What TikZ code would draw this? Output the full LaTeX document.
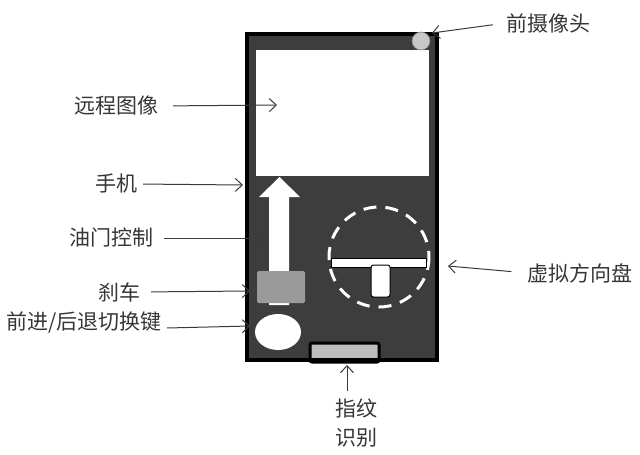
\documentclass[tikz,border=0pt]{standalone}
\usepackage{fontspec}
\newfontfamily\cjk{Noto Sans CJK SC}
\usetikzlibrary{arrows.meta,calc}
\definecolor{phonegray}{HTML}{3D3D3D}
\definecolor{txtgray}{HTML}{363636}
\definecolor{ptrgray}{HTML}{3A3A3A}
\definecolor{brakegray}{HTML}{9A9A9A}
\definecolor{fpgray}{HTML}{BDBDBD}
\definecolor{camgray}{HTML}{C8C8C8}
\tikzset{
  lbl/.style={font=\cjk\fontsize{21}{29}\selectfont, text=txtgray, inner sep=0pt},
  ptr/.style={draw=ptrgray, line width=1pt, -{Straight Barb[length=7pt,width=13pt,line width=1pt]}},
  whitepart/.style={fill=white, draw=none},
  outlined/.style={fill=white, draw=black, line width=1pt},
}
\begin{document}
\begin{tikzpicture}[x=1pt,y=-1pt]
\useasboundingbox (0,0) rectangle (640,455);
% phone body
\draw[line width=4pt, fill=phonegray, draw=black] (247,34) rectangle (437,360);
% screen
\fill[white] (256,50) rectangle (429,176);
% throttle arrow
\fill[white] (269,305) -- (269,197) -- (259,197) -- (279.5,177) -- (300,197) -- (289,197) -- (289,305) -- cycle;
% brake
\fill[brakegray, rounded corners=1.5pt] (257,271) rectangle (305,303);
% forward/backward switch
\fill[white] (278,332) ellipse [x radius=23, y radius=18];
% fingerprint
\draw[line width=3pt, fill=fpgray, draw=black, rounded corners=2pt] (310,343) rectangle (379,362);
\draw[line width=4pt, black] (245,360) -- (439,360);
% steering wheel
\draw[white, line width=3pt, dash pattern=on 13pt off 9pt] (379,257) circle [radius=50];
\draw[outlined] (331,258) rectangle (426,267);
\draw[outlined, rounded corners=2.5pt] (371,265) rectangle (390,297);
% front camera
\draw[fill=camgray, draw=gray, line width=0.6pt] (421,41) circle [radius=9];

% labels
\node[lbl] (lcam) at (548,23) {前摄像头};
\node[lbl] (lremote) at (116,106) {远程图像};
\node[lbl] (lphone) at (116,184) {手机};
\node[lbl] (lthrottle) at (111,238) {油门控制};
\node[lbl] (lbrake) at (119,292) {刹车};
\node[lbl] (lswitch) at (84,323) {前进/后退切换键};
\node[lbl] (lwheel) at (580,273) {虚拟方向盘};
\node[lbl, align=center] (lfinger) at (356,423) {指纹\\识别};

% targets
\coordinate (tcam) at (432,33);
\coordinate (tremote) at (277,105);
\coordinate (tphone) at (243,185);
\coordinate (tthrottle) at (267,238);
\coordinate (tbrake) at (250,291);
\coordinate (tswitch) at (250,326);
\coordinate (twheel) at (448,266);
\coordinate (tfinger) at (347,365);

% connectors
\draw[ptr, shorten <=13pt] (lcam.west) -- (tcam);
\draw[ptr, shorten <=15pt] (lremote.east) -- (tremote);
\draw[ptr, shorten <=6pt] (lphone.east) -- (tphone);
\draw[ptr, shorten <=11pt] (lthrottle.east) -- (tthrottle);
\draw[ptr, shorten <=11pt] (lbrake.east) -- (tbrake);
\draw[ptr] ($(lswitch.east)+(5,5)$) -- (tswitch);
\draw[ptr, shorten <=16pt] (lwheel.west) -- (twheel);
\draw[ptr, shorten <=8pt] (tfinger |- lfinger.north) -- (tfinger);
\end{tikzpicture}
\end{document}
